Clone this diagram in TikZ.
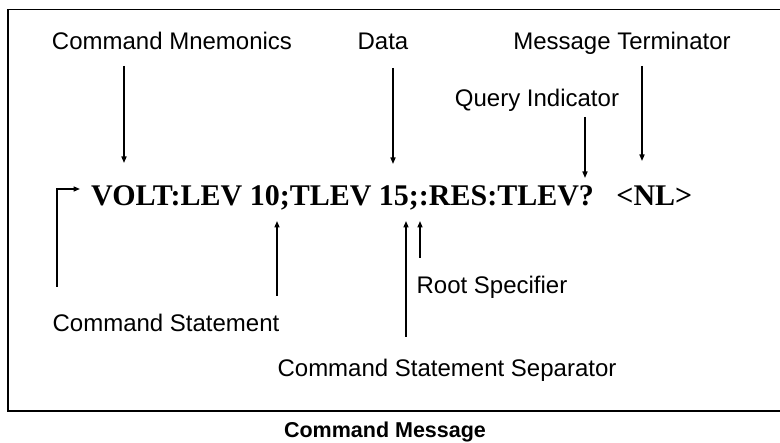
\documentclass[tikz,border=0pt]{standalone}
\usepackage{fontspec}
\setmainfont{Liberation Sans}
\newfontfamily\msgfont{Liberation Serif}
\usetikzlibrary{arrows.meta, positioning, calc}

\begin{document}
\begin{tikzpicture}[
  x=1pt, y=-1pt,
  font=\fontsize{24}{28}\selectfont,
  lbl/.style={inner sep=0pt, anchor=base},
  msg/.style={font=\msgfont\bfseries\fontsize{30}{34}\selectfont,
    inner sep=0pt, anchor=base west},
  caption/.style={font=\bfseries\fontsize{21.5}{25}\selectfont,
    inner sep=0pt, anchor=base},
  ptr/.style={-{Triangle[length=6.5pt, width=5pt]}, line width=1.4pt},
  frame/.style={line width=1.6pt}
]
\useasboundingbox (0,0) rectangle (780,443);

% the frame runs off the right edge of the page
\draw[frame] (780,9.5) -- (8,9.5) -- (8,411) -- (780,411);

\node[msg] (msg) at (91,206) {VOLT:LEV 10;TLEV 15;:RES:TLEV?\hspace{0.75em}<NL>};

% labels above the message
\node[lbl] (mnem)  at (172,50)  {Command Mnemonics};
\node[lbl] (data)  at (383,50)  {Data};
\node[lbl] (term)  at (622,50)  {Message Terminator};
\node[lbl] (query) at (537,107) {Query Indicator};

% labels below the message
\node[lbl] (stmt) at (166,332) {Command Statement};
\node[lbl] (root) at (492,294) {Root Specifier};
\node[lbl] (sep)  at (447,377) {Command Statement Separator};

\node[caption] (cap) at (385,438) {Command Message};

% arrow ends
\coordinate (mnemA) at (124,66);  \coordinate (mnemB) at (124,163);
\coordinate (dataA) at (393,68);  \coordinate (dataB) at (393,164);
\coordinate (termA) at (642,66);  \coordinate (termB) at (642,161);
\coordinate (queryA) at (585,117); \coordinate (queryB) at (585,178);
\coordinate (stmtA) at (57,287);  \coordinate (stmtK) at (57,189);
\coordinate (stmtB) at (80,189);
\coordinate (callA) at (277,296); \coordinate (callB) at (277,221);
\coordinate (sepA)  at (406,337); \coordinate (sepB)  at (406,221);
\coordinate (rootA) at (420,258); \coordinate (rootB) at (420,221);

\draw[ptr] (mnemA) -- (mnemB);
\draw[ptr] (dataA) -- (dataB);
\draw[ptr] (termA) -- (termB);
\draw[ptr] (queryA) -- (queryB);
\draw[ptr] (stmtA) -- (stmtK) -- (stmtB);
\draw[ptr] (callA) -- (callB);
\draw[ptr] (sepA) -- (sepB);
\draw[ptr] (rootA) -- (rootB);

\end{tikzpicture}
\end{document}
